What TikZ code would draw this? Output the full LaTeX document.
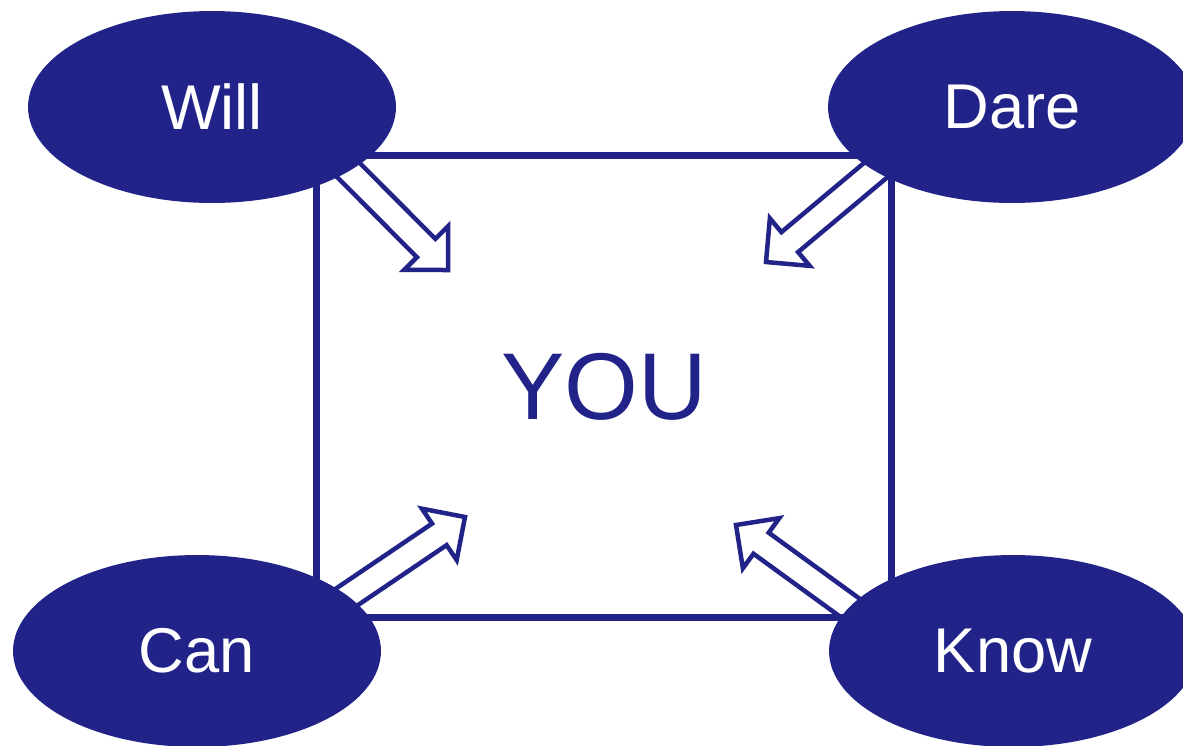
\documentclass[tikz,border=0pt]{standalone}
\usepackage{fontspec}
\setmainfont{Liberation Sans}
\usepackage{tikz}
\usetikzlibrary{calc,shapes.geometric,backgrounds}
\definecolor{indigo}{HTML}{222389}

\tikzset{
  bubble/.style={ellipse,fill=indigo,draw=none,minimum width=7.36cm,minimum height=3.84cm,inner sep=0pt,text=white,font=\fontsize{36}{40}\selectfont},
  frame/.style={draw=indigo,line width=0.14cm,minimum width=11.52cm,minimum height=9.26cm,text=indigo,font=\fontsize{54}{60}\selectfont},
  blockline/.style={draw=indigo,fill=white,line width=0.09cm,line join=miter}
}

% hollow block arrow from #1 (pushed back into the bubble) to the tip #2
\newcommand{\hollowarrow}[2]{%
  \coordinate (tl) at ($(#1)!-0.4cm!(#2)$);
  \coordinate (hd) at ($(#2)!0.62cm!(tl)$);
  \draw[blockline] ($(tl)!0.26cm!90:(#2)$) -- ($(hd)!0.26cm!-90:(tl)$) -- ($(hd)!0.62cm!-90:(tl)$) -- (#2)
    -- ($(hd)!0.62cm!90:(tl)$) -- ($(hd)!0.26cm!90:(tl)$) -- ($(tl)!0.26cm!-90:(#2)$) -- cycle;
}

\begin{document}
\begin{tikzpicture}[x=0.02cm,y=-0.02cm]
\useasboundingbox (0,0) rectangle (1183,745);
\node[frame] (you) at (604,386.5) {YOU};
\foreach \x/\y/\t/\id in {212/107/Will/will, 1012/107/Dare/dare, 197/651/Can/can, 1013/651/Know/know}
{
  \node[bubble] (\id) at (\x,\y) {\t};
}
\foreach \x/\y/\id in {448/270/willtip, 766/262/daretip, 465/517/cantip, 736/525/knowtip}{\coordinate (\id) at (\x,\y);}
\begin{scope}[on background layer]
\foreach \a/\b in {will.-25/willtip, dare.205/daretip, can.20/cantip, know.165/knowtip}{\hollowarrow{\a}{\b}}
\end{scope}
\end{tikzpicture}
\end{document}
